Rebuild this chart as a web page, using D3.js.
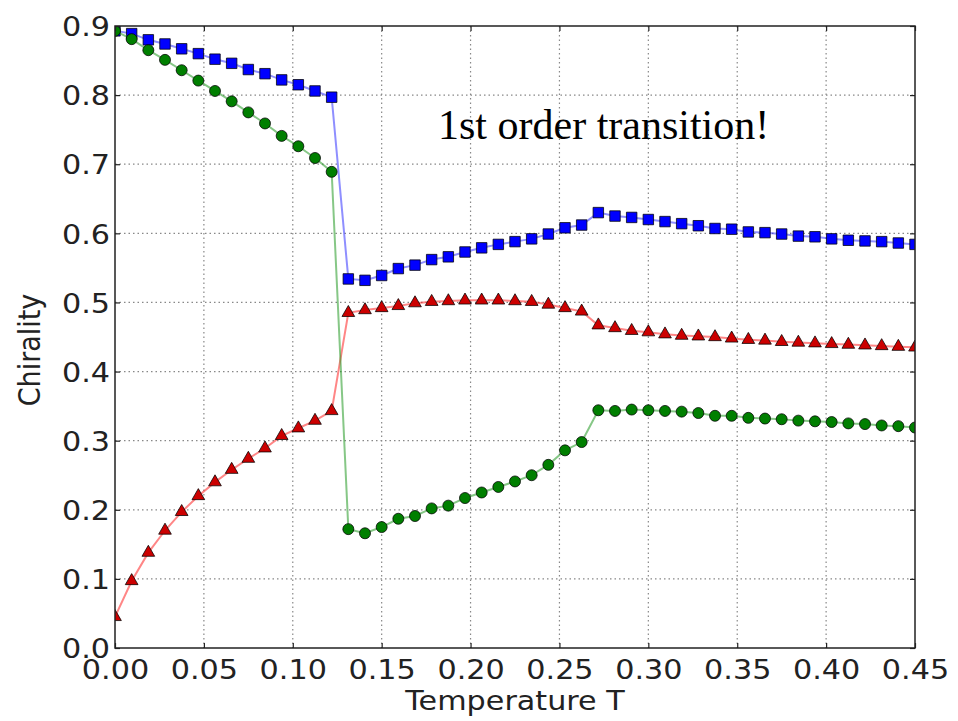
<!DOCTYPE html>
<html>
<head>
<meta charset="utf-8">
<script src="https://cdn.jsdelivr.net/npm/d3@7"></script>
<style>
  html, body { margin: 0; padding: 0; background: #fff; }
  svg { display: block; }
</style>
</head>
<body>
<svg id="chart" width="958" height="721"></svg>
<script>
// Temperature grid (x values)
const temperatures = [
  0, 0.009375, 0.01875, 0.028125, 0.0375, 0.046875, 0.05625, 0.065625, 0.075, 0.084375,
  0.09375, 0.103125, 0.1125, 0.121875, 0.13125, 0.140625, 0.15, 0.159375, 0.16875, 0.178125,
  0.1875, 0.196875, 0.20625, 0.215625, 0.225, 0.234375, 0.24375, 0.253125, 0.2625, 0.271875,
  0.28125, 0.290625, 0.3, 0.309375, 0.31875, 0.328125, 0.3375, 0.346875, 0.35625, 0.365625,
  0.375, 0.384375, 0.39375, 0.403125, 0.4125, 0.421875, 0.43125, 0.440625, 0.45
];

// Chirality series
const blueSeries = [
  0.893, 0.889, 0.880, 0.874, 0.867, 0.860, 0.852, 0.846, 0.837, 0.831, 0.822, 0.815, 0.806, 0.797,
  0.534, 0.532, 0.539, 0.549, 0.554, 0.562, 0.566, 0.573, 0.579, 0.584, 0.588, 0.592, 0.599, 0.608, 0.612, 0.630,
  0.625, 0.623, 0.620, 0.617, 0.614, 0.611, 0.607, 0.606, 0.602, 0.601, 0.599, 0.596, 0.595, 0.592, 0.590, 0.589, 0.588, 0.586, 0.584
];
const greenSeries = [
  0.893, 0.881, 0.865, 0.851, 0.836, 0.821, 0.806, 0.791, 0.775, 0.759, 0.741, 0.726, 0.709, 0.689,
  0.172, 0.166, 0.175, 0.187, 0.191, 0.202, 0.206, 0.217, 0.225, 0.233, 0.241, 0.250, 0.265, 0.286, 0.298, 0.344,
  0.343, 0.345, 0.344, 0.343, 0.342, 0.340, 0.336, 0.336, 0.333, 0.332, 0.331, 0.329, 0.328, 0.327, 0.325, 0.324, 0.322, 0.321, 0.319
];
const redSeries = [
  0.045, 0.097, 0.138, 0.170, 0.197, 0.220, 0.240, 0.258, 0.274, 0.289, 0.307, 0.318, 0.329, 0.343,
  0.485, 0.489, 0.492, 0.495, 0.499, 0.501, 0.502, 0.503, 0.503, 0.503, 0.502, 0.501, 0.497, 0.492, 0.487, 0.467,
  0.463, 0.459, 0.457, 0.454, 0.452, 0.451, 0.450, 0.448, 0.446, 0.445, 0.443, 0.442, 0.441, 0.440, 0.439, 0.438, 0.437, 0.436, 0.435
];

// Tick labels
const xTickValues = [0, 0.05, 0.10, 0.15, 0.20, 0.25, 0.30, 0.35, 0.40, 0.45];
const xTickLabels = ["0.00", "0.05", "0.10", "0.15", "0.20", "0.25", "0.30", "0.35", "0.40", "0.45"];
const yTickValues = [0, 0.1, 0.2, 0.3, 0.4, 0.5, 0.6, 0.7, 0.8, 0.9];
const yTickLabels = ["0.0", "0.1", "0.2", "0.3", "0.4", "0.5", "0.6", "0.7", "0.8", "0.9"];

const xLabel = "Temperature T";
const yLabel = "Chirality";
const note = "1st order transition!";

const plot = { left: 115, right: 915, top: 26, bottom: 648 };
const stretch = 1.12;           // horizontal widening of the sans text
const sansFont = "'DejaVu Sans', sans-serif";
const fontSize = 27;

const svg = d3.select("#chart");

const x = d3.scaleLinear().domain([0, 0.45]).range([plot.left, plot.right]);
const y = d3.scaleLinear().domain([0, 0.9]).range([plot.bottom, plot.top]);

// Dotted grid
const grid = svg.append("g").attr("stroke", "#888").attr("stroke-width", 1.2)
  .attr("stroke-dasharray", "1.5,3");
grid.selectAll("line.gx").data(xTickValues.slice(1, -1)).join("line")
  .attr("x1", d => x(d)).attr("x2", d => x(d))
  .attr("y1", plot.top).attr("y2", plot.bottom);
grid.selectAll("line.gy").data(yTickValues.slice(1, -1)).join("line")
  .attr("x1", plot.left).attr("x2", plot.right)
  .attr("y1", d => y(d)).attr("y2", d => y(d));

// Clip markers to plot area
svg.append("defs").append("clipPath").attr("id", "plotClip")
  .append("rect")
  .attr("x", plot.left).attr("y", plot.top)
  .attr("width", plot.right - plot.left).attr("height", plot.bottom - plot.top);

const layer = svg.append("g").attr("clip-path", "url(#plotClip)");

const series = [
  { values: blueSeries, line: "#3333ff", fill: "#0000ff", shape: d3.symbolSquare, size: 110 },
  { values: redSeries, line: "#ff2222", fill: "#cc0000", shape: d3.symbolTriangle, size: 70 },
  { values: greenSeries, line: "#229922", fill: "#007f00", shape: d3.symbolCircle, size: 95 }
];

const lineGen = d3.line().x(d => x(d[0])).y(d => y(d[1]));

series.forEach(s => {
  const pts = temperatures.map((t, i) => [t, s.values[i]]);
  layer.append("path")
    .datum(pts)
    .attr("d", lineGen)
    .attr("fill", "none")
    .attr("stroke", s.line)
    .attr("stroke-opacity", 0.55)
    .attr("stroke-width", 2);
  layer.selectAll(null).data(pts).join("path")
    .attr("d", d3.symbol().type(s.shape).size(s.size))
    .attr("transform", d => `translate(${x(d[0])},${y(d[1])})`)
    .attr("fill", s.fill)
    .attr("stroke", "#000")
    .attr("stroke-opacity", 0.75)
    .attr("stroke-width", 1);
});

// Axes with inward ticks on all four sides
const xAxisBottom = d3.axisBottom(x).tickValues(xTickValues).tickSizeInner(-5).tickSizeOuter(0)
  .tickFormat((d, i) => xTickLabels[i]);
const xAxisTop = d3.axisTop(x).tickValues(xTickValues).tickSizeInner(-5).tickSizeOuter(0).tickFormat("");
const yAxisLeft = d3.axisLeft(y).tickValues(yTickValues).tickSizeInner(-5).tickSizeOuter(0)
  .tickFormat((d, i) => yTickLabels[i]);
const yAxisRight = d3.axisRight(y).tickValues(yTickValues).tickSizeInner(-5).tickSizeOuter(0).tickFormat("");

function styleAxis(g) {
  g.select(".domain").remove();
  g.selectAll(".tick line").attr("stroke", "#222").attr("stroke-width", 1.2);
  g.selectAll(".tick text")
    .attr("fill", "#222")
    .style("font-family", sansFont)
    .style("font-size", fontSize + "px");
}

const gxb = svg.append("g").attr("transform", `translate(0,${plot.bottom})`).call(xAxisBottom).call(styleAxis);
gxb.selectAll(".tick text").attr("y", 0).attr("dy", "1.15em")
  .attr("transform", `scale(${stretch},1)`);
svg.append("g").attr("transform", `translate(0,${plot.top})`).call(xAxisTop).call(styleAxis);
const gyl = svg.append("g").attr("transform", `translate(${plot.left},0)`).call(yAxisLeft).call(styleAxis);
gyl.selectAll(".tick text").attr("x", -5 / stretch).attr("dy", "0.36em")
  .attr("transform", `scale(${stretch},1)`);
svg.append("g").attr("transform", `translate(${plot.right},0)`).call(yAxisRight).call(styleAxis);

// Frame
svg.append("rect")
  .attr("x", plot.left).attr("y", plot.top)
  .attr("width", plot.right - plot.left).attr("height", plot.bottom - plot.top)
  .attr("fill", "none").attr("stroke", "#222").attr("stroke-width", 1.5);

// Axis titles
svg.append("text")
  .attr("transform", `translate(${(plot.left + plot.right) / 2},710) scale(${stretch},1)`)
  .attr("text-anchor", "middle")
  .attr("fill", "#222")
  .style("font-family", sansFont).style("font-size", fontSize + "px")
  .text(xLabel);

svg.append("text")
  .attr("transform", `translate(40,350) scale(${stretch},1) rotate(-90)`)
  .attr("text-anchor", "middle")
  .attr("fill", "#222")
  .style("font-family", sansFont).style("font-size", fontSize + "px")
  .text(yLabel);

// Annotation
svg.append("text")
  .attr("x", 438).attr("y", 139)
  .attr("fill", "#000")
  .style("font-family", "'Liberation Serif', 'Times New Roman', serif")
  .style("font-size", "42px")
  .text(note);
</script>
</body>
</html>
